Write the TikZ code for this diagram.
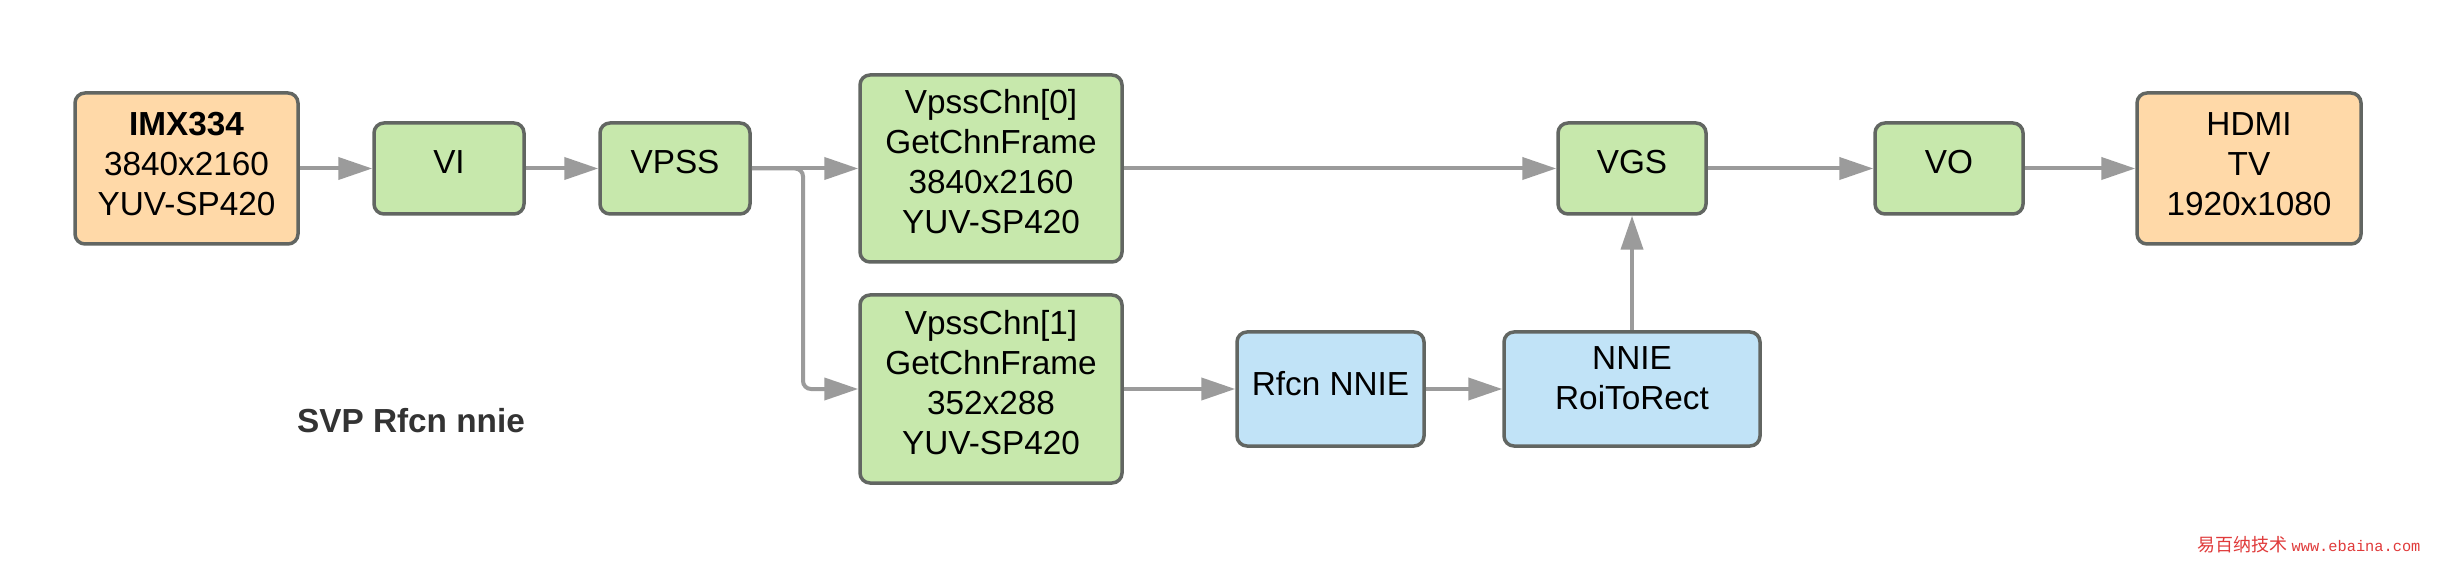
\documentclass[tikz,border=0pt]{standalone}
\usepackage{fontspec}
\setmainfont{Liberation Sans}
\newfontfamily\cjkfont{Noto Sans CJK SC}
\newfontfamily\urlfont{Liberation Mono}
\usetikzlibrary{arrows.meta}
\definecolor{boxgreen}{HTML}{C7E8AC}
\definecolor{boxorange}{HTML}{FFD9A8}
\definecolor{boxblue}{HTML}{C1E3F7}
\definecolor{boxline}{HTML}{626662}
\definecolor{arrgray}{HTML}{9B9B9B}
\definecolor{labelgray}{HTML}{333333}
\definecolor{wmred}{HTML}{E03A3A}
\tikzset{
  blk/.style 2 args={draw=boxline, line width=1.05pt, rounded corners=3pt,
    minimum width=#1*0.3pt, minimum height=#2*0.3pt, inner sep=0pt,
    align=center, font=\fontsize{10}{12}\selectfont, text=black},
  gbox/.style 2 args={blk={#1}{#2}, fill=boxgreen},
  obox/.style 2 args={blk={#1}{#2}, fill=boxorange},
  bbox/.style 2 args={blk={#1}{#2}, fill=boxblue},
  txtup/.style={execute at end node={\rule[-#1]{0pt}{0pt}}},
  arr/.style={draw=arrgray, line width=1.2pt,
    -{Triangle[length=10.2pt, width=6.6pt, fill=arrgray]}},
}
\begin{document}
\begin{tikzpicture}[x=0.3pt, y=-0.3pt]
\useasboundingbox[fill=white] (0,0) rectangle (2438,562);

\node[obox={223}{151}, txtup=2.8pt] (imx) at (186.5,168.5) {\textbf{IMX334}\\3840x2160\\YUV-SP420};
\node[gbox={150}{91}, txtup=4pt] (vi) at (449,168.5) {VI};
\node[gbox={150}{91}, txtup=4pt] (vpss) at (675,168.5) {VPSS};
\node[gbox={262}{187}, txtup=4.2pt] (chn0) at (991,168.5) {VpssChn[0]\\GetChnFrame\\3840x2160\\YUV-SP420};
\node[gbox={262}{188}, txtup=3.8pt] (chn1) at (991,389) {VpssChn[1]\\GetChnFrame\\352x288\\YUV-SP420};
\node[gbox={148}{91}, txtup=4pt] (vgs) at (1632,168.5) {VGS};
\node[gbox={148}{91}, txtup=4pt] (vo) at (1949,168.5) {VO};
\node[obox={224}{151}, txtup=2.4pt] (hdmi) at (2249,168.5) {HDMI\\TV\\1920x1080};
\node[bbox={187}{114}, txtup=3.6pt] (rfcn) at (1330.5,389) {Rfcn NNIE};
\node[bbox={256}{114}, txtup=6.8pt] (roi) at (1632,389) {NNIE\\RoiToRect};

\node[font=\bfseries\fontsize{10}{12}\selectfont, text=labelgray] (svp) at (411,421) {SVP Rfcn nnie};
\node[text=wmred, inner sep=0pt] (wm) at (2309,545)
  {\cjkfont\fontsize{5.4}{6}\selectfont 易百纳技术\ \urlfont\fontsize{4.6}{6}\selectfont www.ebaina.com};

\coordinate (br) at (803,168.5);

\draw[arr] (imx.east) -- (vi.west);
\draw[arr] (vi.east) -- (vpss.west);
\draw[arr] (vpss.east) -- (chn0.west);
\draw[arr, rounded corners=2.4pt] (vpss.east) -- (br) |- (chn1.west);
\draw[arr] (chn0.east) -- (vgs.west);
\draw[arr] (vgs.east) -- (vo.west);
\draw[arr] (vo.east) -- (hdmi.west);
\draw[arr] (chn1.east) -- (rfcn.west);
\draw[arr] (rfcn.east) -- (roi.west);
\draw[arr] (roi.north) -- (vgs.south);
\end{tikzpicture}
\end{document}
